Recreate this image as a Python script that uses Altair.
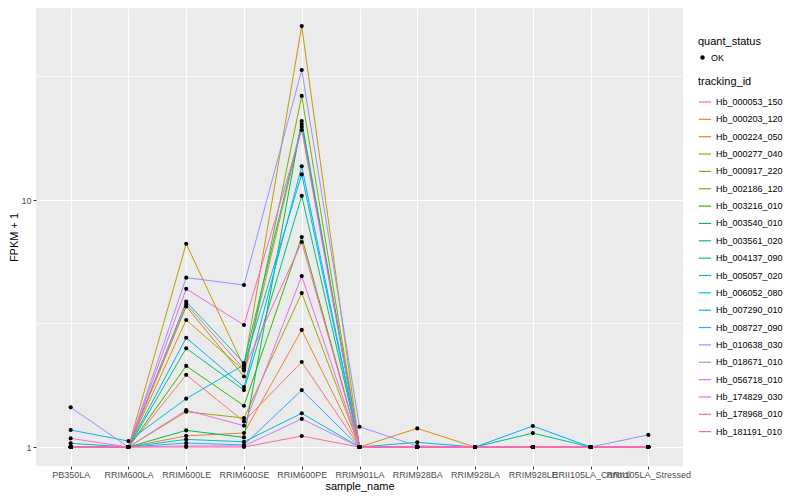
import altair as alt
import pandas as pd

samples = ["PB350LA", "RRIM600LA", "RRIM600LE", "RRIM600SE", "RRIM600PE",
           "RRIM901LA", "RRIM928BA", "RRIM928LA", "RRIM928LE",
           "RRII105LA_Control", "RRII105LA_Stressed"]

tracking_ids = ["Hb_000053_150", "Hb_000203_120", "Hb_000224_050", "Hb_000277_040",
                "Hb_000917_220", "Hb_002186_120", "Hb_003216_010", "Hb_003540_010",
                "Hb_003561_020", "Hb_004137_090", "Hb_005057_020", "Hb_006052_080",
                "Hb_007290_010", "Hb_008727_090", "Hb_010638_030", "Hb_018671_010",
                "Hb_056718_010", "Hb_174829_030", "Hb_178968_010", "Hb_181191_010"]

colors = ["#F8766D", "#EA8331", "#D89000", "#C09B00", "#A3A500", "#7CAE00", "#39B600",
          "#00BB4E", "#00BF7D", "#00C1A3", "#00BFC4", "#00BAE0", "#00B0F6", "#35A2FF",
          "#9590FF", "#C77CFF", "#E76BF3", "#FA62DB", "#FF62BC", "#FF6C91"]

# FPKM + 1 per sample (same order as samples)
hb_000053_150 = [1.0, 1.0, 1.96, 1.27, 2.21, 1.0, 1.0, 1.0, 1.0, 1.0, 1.0]
hb_000203_120 = [1.0, 1.0, 1.11, 1.14, 2.98, 1.0, 1.0, 1.0, 1.0, 1.0, 1.0]
hb_000224_050 = [1.0, 1.0, 3.27, 2.04, 19.8, 1.0, 1.19, 1.0, 1.0, 1.0, 1.0]
hb_000277_040 = [1.0, 1.0, 6.65, 2.11, 50.6, 1.0, 1.0, 1.0, 1.0, 1.0, 1.0]
hb_000917_220 = [1.0, 1.0, 1.39, 1.31, 4.20, 1.0, 1.0, 1.0, 1.0, 1.0, 1.0]
hb_002186_120 = [1.0, 1.0, 3.71, 1.93, 26.4, 1.0, 1.0, 1.0, 1.0, 1.0, 1.0]
hb_003216_010 = [1.0, 1.0, 2.13, 1.47, 7.08, 1.0, 1.0, 1.0, 1.0, 1.0, 1.0]
hb_003540_010 = [1.0, 1.0, 1.168, 1.094, 20.9, 1.0, 1.0, 1.0, 1.0, 1.0, 1.0]
hb_003561_020 = [1.0, 1.0, 2.51, 1.70, 10.4, 1.0, 1.0, 1.0, 1.139, 1.0, 1.0]
hb_004137_090 = [1.035, 1.0, 3.88, 2.19, 20.3, 1.0, 1.0, 1.0, 1.0, 1.0, 1.0]
hb_005057_020 = [1.0, 1.0, 1.074, 1.05, 1.37, 1.0, 1.0, 1.0, 1.0, 1.0, 1.0]
hb_006052_080 = [1.172, 1.057, 1.57, 2.15, 12.7, 1.0, 1.045, 1.0, 1.0, 1.0, 1.0]
hb_007290_010 = [1.0, 1.0, 2.77, 1.75, 13.7, 1.0, 1.0, 1.0, 1.216, 1.0, 1.0]
hb_008727_090 = [1.0, 1.0, 1.038, 1.02, 1.70, 1.0, 1.0, 1.0, 1.0, 1.0, 1.0]
hb_010638_030 = [1.448, 1.0, 4.85, 4.53, 33.6, 1.208, 1.01, 1.0, 1.0, 1.0, 1.12]
hb_018671_010 = [1.0, 1.0, 1.01, 1.01, 1.30, 1.0, 1.0, 1.0, 1.0, 1.0, 1.0]
hb_056718_010 = [1.084, 1.0, 1.41, 1.22, 4.92, 1.0, 1.0, 1.0, 1.0, 1.0, 1.0]
hb_174829_030 = [1.0, 1.0, 4.37, 3.12, 19.2, 1.0, 1.0, 1.0, 1.0, 1.0, 1.0]
hb_178968_010 = [1.0, 1.0, 3.79, 2.07, 6.76, 1.0, 1.0, 1.0, 1.0, 1.0, 1.0]
hb_181191_010 = [1.0, 1.0, 1.0, 1.0, 1.108, 1.0, 1.0, 1.0, 1.0, 1.0, 1.0]

series = [hb_000053_150, hb_000203_120, hb_000224_050, hb_000277_040, hb_000917_220,
          hb_002186_120, hb_003216_010, hb_003540_010, hb_003561_020, hb_004137_090,
          hb_005057_020, hb_006052_080, hb_007290_010, hb_008727_090, hb_010638_030,
          hb_018671_010, hb_056718_010, hb_174829_030, hb_178968_010, hb_181191_010]

minor_breaks = [3.1623, 31.623]

rows = []
for tid, vals in zip(tracking_ids, series):
    for s, v in zip(samples, vals):
        rows.append({"tracking_id": tid, "sample_name": s, "FPKM + 1": v, "quant_status": "OK"})
df = pd.DataFrame(rows)
minor_df = pd.DataFrame({"FPKM + 1": minor_breaks})

FONT = "Liberation Sans"

yscale = alt.Scale(type="log", domain=[0.838, 59.9], nice=False)
xenc = alt.X("sample_name:N", sort=samples,
             scale=alt.Scale(type="point", padding=0.6),
             axis=alt.Axis(title="sample_name", labelAngle=0, grid=True))
yenc = alt.Y("FPKM + 1:Q", scale=yscale,
             axis=alt.Axis(title="FPKM + 1", values=[1, 10], grid=True, format="d"))

minor = alt.Chart(minor_df).mark_rule(color="white", strokeWidth=0.6).encode(
    y=alt.Y("FPKM + 1:Q", scale=yscale)
)

lines = alt.Chart(df).mark_line(strokeWidth=1).encode(
    x=xenc,
    y=yenc,
    stroke=alt.Stroke("tracking_id:N",
                      scale=alt.Scale(domain=tracking_ids, range=colors),
                      legend=alt.Legend(title="tracking_id", symbolType="stroke",
                                        symbolStrokeWidth=1.2, symbolSize=150,
                                        orient="none", legendX=662, legendY=68,
                                        rowPadding=5.35, titlePadding=8)),
    detail="tracking_id:N",
)

points = alt.Chart(df).mark_point(filled=True, size=17, opacity=1).encode(
    x=xenc,
    y=yenc,
    color=alt.Color("quant_status:N", scale=alt.Scale(domain=["OK"], range=["black"]),
                    legend=alt.Legend(title="quant_status", symbolType="circle",
                                      symbolSize=20, orient="none",
                                      legendX=662, legendY=28, titlePadding=6)),
)

chart = alt.layer(minor, lines, points).properties(
    width=647, height=458,
    autosize=alt.AutoSizeParams(type="none"),
    padding={"left": 28, "top": 0, "right": 109, "bottom": 27},
).configure_view(
    fill="#EBEBEB", strokeWidth=0
).configure_axis(
    domain=False, tickColor="#333333", tickSize=3, tickWidth=1,
    labelColor="#4D4D4D", labelFontSize=9, labelFont=FONT,
    titleFont=FONT, titleFontSize=11, titleFontWeight="normal", titleColor="black",
    gridColor="white", gridWidth=1.1, gridOpacity=1,
).configure_axisY(
    titlePadding=1, labelPadding=2
).configure_axisX(
    titlePadding=1, labelPadding=1, labelOverlap=False
).configure_legend(
    titleFont=FONT, titleFontSize=11, titleFontWeight="normal", titleColor="black",
    labelFont=FONT, labelFontSize=9, labelColor="black",
)

chart.save("out.html", embed_options={"renderer": "svg", "actions": False})
